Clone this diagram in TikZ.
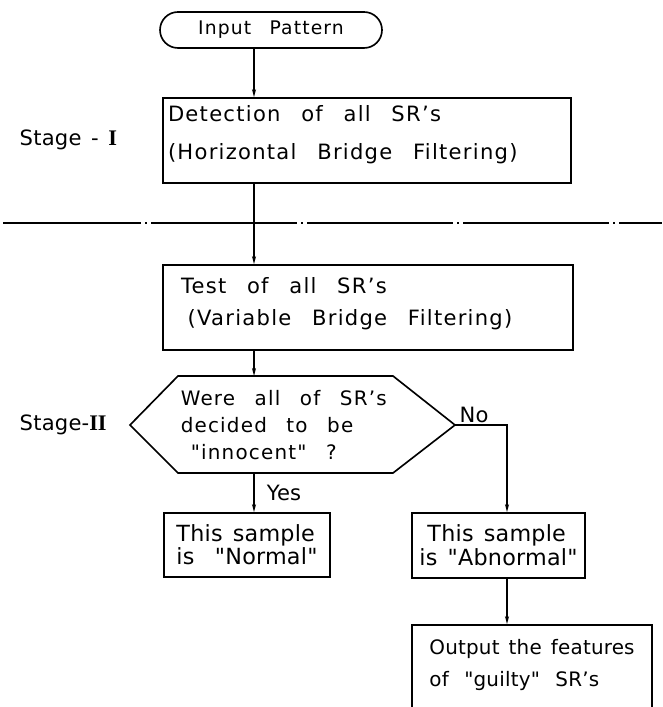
\documentclass[tikz,border=0pt]{standalone}
\usepackage{fontspec}
\newfontfamily\widefont{DejaVu Sans}[LetterSpace=6,WordSpace=2.6]
\newfontfamily\boxfont{DejaVu Sans}[LetterSpace=1,WordSpace=1.4]
\newfontfamily\romanfont{Liberation Serif Bold}
\usetikzlibrary{arrows.meta}
\newcommand\lowpad[1]{\rule[-#1]{0pt}{0pt}}

\begin{document}
\begin{tikzpicture}[x=0.3mm,y=-0.3mm,>={Stealth[length=2.4mm,width=1.2mm]},line width=1.4pt,
  font=\boxfont\fontsize{18}{21}\selectfont,
  box/.style={draw,rectangle,inner ysep=0pt},
  flow/.style={->,line width=1.2pt}]
\useasboundingbox (0,0) rectangle (662,707);
\coordinate (spine) at (254,0);
\coordinate (branch) at (507,0);
\node[draw,rounded corners=5.4mm,minimum width=66.6mm,minimum height=10.8mm,font=\widefont\fontsize{16}{19}\selectfont] (input) at (271,30) {Input Pattern};
\node[box,align=flush left,text width=119.4mm,minimum height=25.5mm,inner xsep=1.5mm,font=\widefont\fontsize{18}{32.4}\selectfont] (detect) at (367,140.5)
  {Detection of all SR’s\\(Horizontal Bridge Filtering)\lowpad{4.6mm}};
\node[anchor=west] (stage1) at (15,140) {Stage - {\romanfont\fontsize{19}{21}\selectfont I}};
% stage boundary
\draw[line width=1.1pt,dash pattern=on 43.8mm off 1.2mm on 0.6mm off 1.2mm,dash phase=2.4mm] (3,223) -- (662,223);
\node[box,align=flush left,text width=112.2mm,minimum height=25.5mm,inner xsep=5.4mm,font=\widefont\fontsize{18}{28}\selectfont] (test) at (368,307.5)
  {Test of all SR’s\\\hspace{2mm}(Variable Bridge Filtering)\lowpad{3.6mm}};
% decision
\coordinate (d-l) at (130,425);
\coordinate (d-tl) at (178,376);
\coordinate (d-tr) at (393,376);
\coordinate (d-r) at (455,425);
\coordinate (d-br) at (393,473);
\coordinate (d-bl) at (178,473);
\draw (d-l) -- (d-tl) -- (d-tr) -- (d-r) -- (d-br) -- (d-bl) -- cycle;
\node[anchor=west,align=left,inner sep=0pt,font=\widefont\fontsize{17}{23}\selectfont] (decision) at (180,425)
  {Were all of SR’s\\decided to be\\\hspace{3mm}"innocent" ?};
\node[anchor=west] (stage2) at (15,425) {Stage-{\romanfont\fontsize{19}{21}\selectfont II}};
\node[box,align=left,minimum width=49.8mm,minimum height=19.2mm,font=\boxfont\fontsize{19}{19.6}\selectfont] (normal) at (247,545)
  {This sample\\is \ "Normal"};
\node[box,align=left,minimum width=51.9mm,minimum height=19.5mm,font=\boxfont\fontsize{19}{20.4}\selectfont] (abnormal) at (498.5,545.5)
  {\hspace{2.4mm}This sample\\is "Abnormal"};
\node[box,align=left,minimum width=72mm,minimum height=26.1mm,font=\boxfont\fontsize{17}{28}\selectfont] (output) at (532,668.5)
  {Output the features\\of \hspace{1.9mm}"guilty" \hspace{1.9mm}SR’s\lowpad{3.4mm}};
\node (yes) at (284,493) {Yes};
\node (no) at (474,415) {No};
% connectors
\draw[flow] (input.south -| spine) -- (detect.north -| spine);
\draw[flow] (detect.south -| spine) -- (test.north -| spine);
\draw[flow] (test.south -| spine) -- (d-tl -| spine);
\draw[flow] (d-bl -| spine) -- (normal.north -| spine);
\draw[flow] (d-r) -| (abnormal.north -| branch);
\draw[flow] (abnormal.south -| branch) -- (output.north -| branch);
\end{tikzpicture}
\end{document}
